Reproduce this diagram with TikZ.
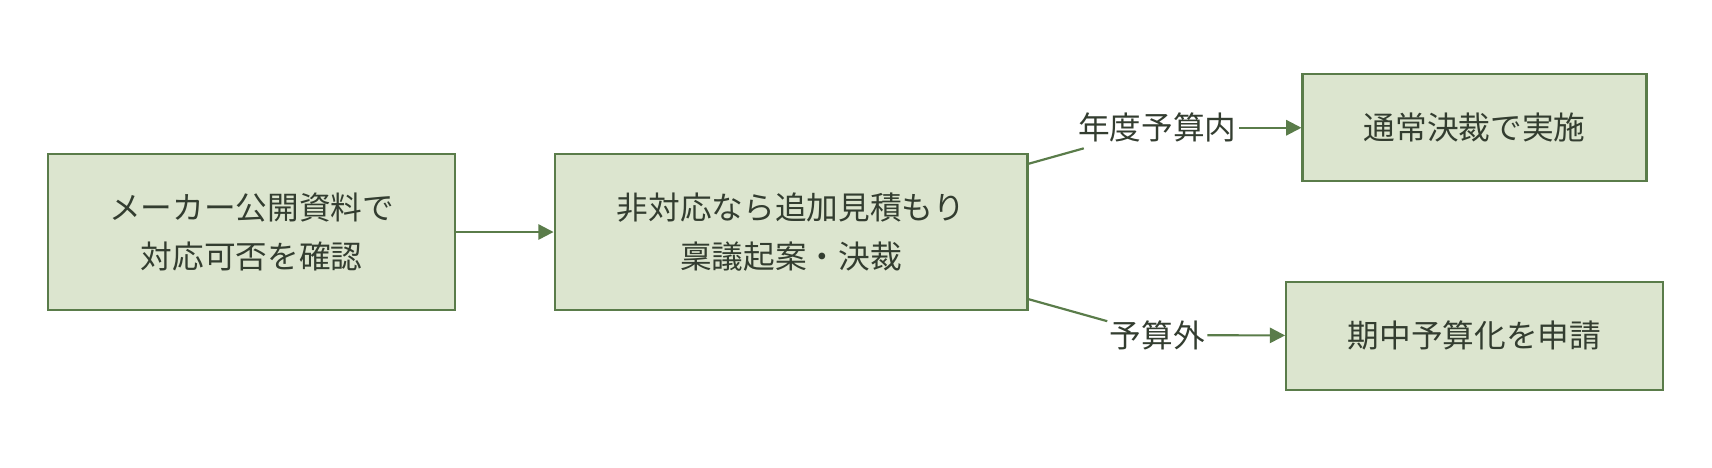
\documentclass[tikz,border=0pt]{standalone}
\usepackage{fontspec}
\setmainfont{Noto Sans CJK JP}
\usepackage{tikz}
\usetikzlibrary{arrows.meta}
\definecolor{boxfill}{HTML}{DCE5CF}
\definecolor{boxline}{HTML}{5A7C4A}
\definecolor{txt}{HTML}{333D30}
\tikzset{
    stepbox/.style={rectangle, draw=boxline, fill=boxfill, line width=1pt,
        inner sep=0pt, align=center, text=txt, font=\fontsize{14.5}{22.5}\selectfont},
    lbl/.style={inner xsep=1pt, inner ysep=2.5pt, text=txt, font=\fontsize{14.5}{22.5}\selectfont},
    edge/.style={draw=boxline, line width=1pt},
    arr/.style={edge, -{Triangle[length=7pt,width=7pt]}}
}

\begin{document}
\begin{tikzpicture}[x=0.5pt, y=-0.5pt]
    \useasboundingbox (0, 0) rectangle (1568, 428.6);
    \node[stepbox, minimum width=186.5pt, minimum height=71.5pt] (a) at (230.5, 212.5) {メーカー公開資料で\\対応可否を確認};
    \node[stepbox, minimum width=216.5pt, minimum height=71.5pt] (b) at (724.5, 212.5) {非対応なら追加見積もり\\稟議起案・決裁};
    \node[stepbox, minimum width=157.5pt, minimum height=49pt] (c) at (1350.5, 117) {通常決裁で実施};
    \node[stepbox, minimum width=172.5pt, minimum height=49.5pt] (d) at (1350.5, 307.5) {期中予算化を申請};
    \node[lbl] (in) at (1060, 117) {年度予算内};
    \node[lbl] (out) at (1060, 307) {予算外};
    \draw[arr] (a) -- (b);
    \draw[edge] ([yshift=31.25pt]b.east) -- (in);
    \draw[arr] (in) -- (c);
    \draw[edge] ([yshift=-30.75pt]b.east) -- (out);
    \draw[arr] (out) -- (d);
\end{tikzpicture}
\end{document}
